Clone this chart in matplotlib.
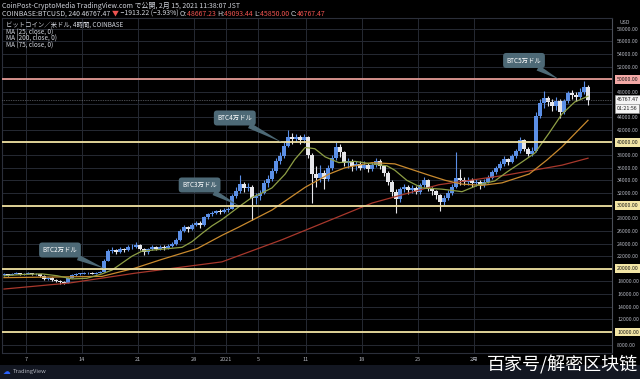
import numpy as np
import matplotlib
matplotlib.use('Agg')
import matplotlib.pyplot as plt
import matplotlib.transforms as mtransforms
from matplotlib.patches import Rectangle

plt.rcParams['font.family'] = ['Noto Sans CJK JP', 'DejaVu Sans']

# ---------------- data ----------------
# x unit: day number counted from 1 Dec 2020 (Jan 1 = 32, Feb 1 = 63)
first_day = 4.25      # first candle: Dec 4, 06:00
bar_step = 0.5        # 12-hour candles
first_open = 19000

closes = [
    19100, 19000, 19200, 19300, 19150, 19250, 19350, 19100, 19200, 18900,
    18400, 18500, 18300, 18100, 17900, 17800, 18600, 19000, 19200, 19250,
    19300, 19350, 19250, 19400, 19500, 21300, 22800, 23000, 22700, 23100,
    22900, 23400, 23500, 23800, 23200, 22600, 23100, 23400, 23200, 23500,
    23300, 23600, 23900, 24500, 26000, 26600, 26300, 26900, 27300, 27000,
    28200, 28700, 28900, 29100, 29000, 29300, 29500, 31500, 32300, 33400,
    32800, 33000, 31200, 31500, 32000, 33500, 34200, 35500, 37000, 37800,
    39500, 40800, 40500, 40900, 40300, 40800, 38000, 35000, 34300, 35200,
    34200, 36000, 37500, 39300, 38500, 36800, 37000, 36200, 36600, 36000,
    36500, 35800, 36400, 37000, 36200, 35200, 33800, 32200, 31000, 32600,
    33000, 32400, 32800, 32200, 33300, 34000, 32700, 32300, 31600, 30500,
    31200, 32000, 33000, 34300, 34000, 33800, 34000, 33600, 33800, 33200,
    33800, 34400, 35300, 35900, 36600, 37400, 36900, 37800, 38600, 40300,
    39000, 38200, 38600, 44200, 46300, 47000, 46400, 45800, 46600, 44800,
    46500, 47800, 47500, 47200, 48000, 48700, 46767.47]

highs = [
    19300, 19250, 19350, 19450, 19400, 19400, 19500, 19400, 19350, 19250,
    18950, 18700, 18650, 18400, 18200, 18000, 18700, 19150, 19350, 19400,
    19450, 19500, 19450, 19550, 19700, 21500, 23100, 23400, 23200, 23400,
    23300, 23700, 23900, 24200, 23900, 23300, 23300, 23700, 23600, 23800,
    23700, 23900, 24200, 24800, 26300, 26900, 26800, 27200, 27600, 27500,
    28400, 28900, 29200, 29300, 29400, 29600, 29800, 31800, 33000, 34800,
    33800, 33600, 33200, 32000, 32500, 34000, 34800, 36000, 37500, 38500,
    40000, 41950, 41500, 41300, 41200, 41300, 41000, 38300, 36200, 36500,
    35600, 36400, 38000, 40100, 39700, 38700, 37600, 37300, 37000, 37000,
    37000, 36700, 36900, 37500, 37300, 36500, 35400, 34100, 32600, 33000,
    33400, 33300, 33200, 33100, 33600, 34600, 34200, 33000, 32500, 31800,
    31600, 32400, 33400, 38500, 35800, 34600, 34500, 34300, 34200, 34000,
    34200, 34800, 35700, 36300, 37000, 37800, 37600, 38200, 39000, 40900,
    40500, 39300, 39200, 44800, 46800, 48100, 47400, 46800, 47200, 46800,
    46900, 48200, 48300, 48000, 48600, 49700, 49093.44]

lows = [
    18900, 18850, 18950, 19100, 19000, 19050, 19150, 19000, 18950, 18700,
    18200, 18250, 18100, 17900, 17650, 17550, 17700, 18500, 18900, 19050,
    19100, 19150, 19100, 19150, 19300, 19450, 21200, 22500, 22300, 22500,
    22600, 22800, 23200, 23300, 22900, 22200, 22400, 22900, 22900, 23000,
    23000, 23200, 23400, 23800, 24400, 25800, 25900, 26100, 26700, 26400,
    26800, 27900, 28400, 28600, 28700, 28800, 29000, 29400, 31200, 32000,
    32100, 32300, 27700, 30200, 30900, 31800, 33000, 33900, 35200, 36600,
    37500, 39200, 39800, 40000, 39700, 39900, 37600, 30400, 33000, 33800,
    32600, 33900, 35700, 37200, 37700, 36300, 35900, 35400, 35700, 35600,
    35800, 35300, 35500, 36100, 35800, 34700, 33300, 31500, 28800, 30600,
    32200, 31800, 32000, 31800, 31900, 33000, 32300, 31700, 31000, 29200,
    30100, 30900, 31700, 32800, 33200, 33200, 33300, 33000, 33100, 32700,
    32900, 33500, 34200, 35000, 35600, 36300, 36400, 36700, 37500, 38400,
    38600, 37800, 37900, 38500, 43800, 45500, 45800, 44900, 45200, 43800,
    44500, 46200, 46900, 46600, 46900, 47600, 45850]

ma25_days = [4.25, 6.5, 9, 10.9, 12.75, 14.6, 16.5, 17.75, 19, 20.25, 21.5, 24,
             26.5, 27.75, 29, 30.25, 31.5, 33.6, 35.25, 36.5, 37.75, 39.4, 40.6,
             41.9, 43.1, 44.4, 46.1, 48.1, 50.25, 52.1, 53.1, 54.6, 56.5, 59,
             61.5, 63.6, 65.6, 67.1, 69, 70.6, 72.4, 74, 75.6, 77.25]
ma25_vals = [18900, 19100, 19200, 18900, 18400, 18500, 19200, 19800, 20900, 22000,
             22800, 23100, 23400, 24300, 25600, 26800, 27800, 29800, 31300, 32000,
             32800, 35000, 37300, 39200, 39000, 37700, 36800, 37000, 36600, 36300,
             35600, 34000, 32800, 32600, 32200, 33300, 33900, 35300, 36900, 38300,
             41500, 44500, 46400, 47300]

ma75_days = [4.25, 10.25, 16.5, 20.6, 24, 28.4, 31.5, 33.6, 37.75, 41.9, 44.9, 46.9,
             50.25, 53.1, 55.25, 57.4, 59.4, 61.5, 64, 66.5, 69.9, 72.1, 74, 77.25]
ma75_vals = [18600, 18700, 18800, 20100, 21500, 23200, 25300, 26600, 29300, 32900,
             35000, 36000, 36800, 36600, 35700, 34800, 34000, 33400, 33200, 33600,
             35000, 37200, 39300, 43500]

ma200_days = [4.25, 12.4, 20.6, 31.5, 39, 50.25, 58.6, 66.9, 74, 77.25]
ma200_vals = [16800, 17750, 19300, 21100, 24600, 30400, 33300, 34800, 36400, 37500]

level_prices = [10000, 20000, 30000, 40000]
target_price = 50000
last_price = 46767.47
countdown = '01:21:56'

tick_days = [7, 14, 21, 28, 32, 36, 42, 49, 56, 63]
tick_labels = ['7', '14', '21', '28', '2021', '5', '11', '18', '25', '2月']
price_ticks = list(range(8000, 60000, 2000))

callout_texts = ['BTC2万ドル', 'BTC3万ドル', 'BTC4万ドル', 'BTC5万ドル']

# ---------------- figure ----------------
W, H = 640, 379
fig = plt.figure(figsize=(6.4, 3.79), dpi=100, facecolor='#000000')

def fx(px):
    return px / W

def fy(py):
    return 1 - py / H

ax = fig.add_axes([fx(2), 26 / H, 610 / W, 335 / H])
ax.set_facecolor('#000000')
ax.set_xlim(4.0, 80.25)
ax.set_ylim(6680, 59680)

# grid
for p in price_ticks:
    ax.axhline(p, color='#262a33', lw=0.7, zorder=0)
for d in tick_days:
    ax.axvline(d, color='#262a33', lw=0.7, zorder=0)

# candles
n = len(closes)
days = first_day + bar_step * np.arange(n)
opens = np.array([first_open] + closes[:-1], dtype=float)
closes_a = np.array(closes, dtype=float)
up = closes_a >= opens
up_col, dn_col = '#5b8fe6', '#e6e6ea'
cols = [up_col if u else dn_col for u in up]
ax.vlines(days, lows, highs, colors=cols, lw=0.8, zorder=2)
body_bot = np.minimum(opens, closes_a)
body_h = np.maximum(np.abs(closes_a - opens), 80)
ax.bar(days, body_h, bottom=body_bot, width=0.4, color=cols, linewidth=0, zorder=2)

# moving averages
ax.plot(ma200_days, ma200_vals, color='#a8382c', lw=0.9, zorder=3)
ax.plot(ma75_days, ma75_vals, color='#c98a2e', lw=0.9, zorder=3)
ax.plot(ma25_days, ma25_vals, color='#8e9f45', lw=0.9, zorder=3)

# horizontal levels
for p in level_prices:
    ax.axhline(p, color='#efe0a0', lw=1.3, zorder=4)
ax.axhline(target_price, color='#e39a94', lw=1.3, zorder=4)
ax.axhline(last_price, color='#8d929c', lw=0.5, ls=(0, (1, 1.5)), zorder=4)

# price axis
ax.yaxis.tick_right()
ax.set_yticks(price_ticks)
special = set(level_prices + [target_price])
ax.set_yticklabels(['' if p in special else f'{p:.2f}' for p in price_ticks])
ax.tick_params(axis='y', length=0, pad=3.6, labelsize=3.8, labelcolor='#b2b5be')
ax.set_xticks(tick_days)
ax.set_xticklabels(tick_labels)
ax.tick_params(axis='x', length=0, pad=3.0, labelsize=4.0, labelcolor='#b2b5be')
for s in ['left', 'top', 'bottom']:
    ax.spines[s].set_color('#2b2f3a')
    ax.spines[s].set_linewidth(0.8)
ax.spines['right'].set_color('#4a4e58')
ax.spines['right'].set_linewidth(0.8)

tr = mtransforms.blended_transform_factory(fig.transFigure, ax.transData)
for p in level_prices:
    ax.text(fx(617), p, f'{p:.2f}', transform=tr, fontsize=3.8, color='#1a1a1a',
            va='center', ha='left', clip_on=False, zorder=6,
            bbox=dict(boxstyle='square,pad=0.35', fc='#f3e6a6', ec='none'))
ax.text(fx(617), target_price, f'{target_price:.2f}', transform=tr, fontsize=3.8,
        color='#1a1a1a', va='center', ha='left', clip_on=False, zorder=6,
        bbox=dict(boxstyle='square,pad=0.35', fc='#f3a9a6', ec='none'))
ax.text(fx(617), last_price, f'{last_price:.2f}', transform=tr, fontsize=3.8,
        color='#1a1a1a', va='center', ha='left', clip_on=False, zorder=6,
        bbox=dict(boxstyle='square,pad=0.35', fc='#f4f4f4', ec='#9a9a9a', lw=0.4))
ax.text(fx(617), last_price - 1450, countdown, transform=tr, fontsize=3.8,
        color='#1a1a1a', va='center', ha='left', clip_on=False, zorder=6,
        bbox=dict(boxstyle='square,pad=0.35', fc='#f4f4f4', ec='#9a9a9a', lw=0.4))
fig.text(fx(625), fy(22.5), 'USD', fontsize=3.8, color='#b2b5be', ha='center', va='center')

# callouts
callout_pos = [((11.25, 22975), (16.9, 20000)),
               ((28.7, 33260), (33.6, 30000)),
               ((33.1, 43860), (39.0, 40000)),
               ((69.25, 52960), (73.6, 50000))]
for txt, (tpos, tip) in zip(callout_texts, callout_pos):
    ax.annotate(txt, xy=tip, xytext=tpos, fontsize=4.6, color='white',
                ha='center', va='center', zorder=7,
                bbox=dict(boxstyle='round,pad=0.55,rounding_size=0.5', fc='#4d6976', ec='none'),
                arrowprops=dict(arrowstyle='wedge,tail_width=0.9,shrink_factor=0.5',
                                fc='#4d6976', ec='none', shrinkA=0, shrinkB=0))

# legend inside plot
leg_lines = ['ビットコイン／米ドル, 4時間, COINBASE', 'MA (25, close, 0)',
             'MA (200, close, 0)', 'MA (75, close, 0)']
for k, s in enumerate(leg_lines):
    fig.text(fx(6), fy(25 + 6.5 * k), s, fontsize=4.6, color='#d1d4dc', va='center', ha='left')

# header
fig.text(fx(2), fy(5.5), 'CoinPost-CryptoMedia TradingView.com で公開, 2月 15, 2021 11:38:07 JST',
         fontsize=5.0, color='#d1d4dc', va='center', ha='left')
parts = [('COINBASE:BTCUSD, 240 46767.47 ', '#d1d4dc'), ('▼', '#ef5350'),
         (' −1913.22 (−3.93%) ', '#d1d4dc'), ('O:', '#d1d4dc'), ('48667.23 ', '#ef5350'),
         ('H:', '#d1d4dc'), ('49093.44 ', '#ef5350'), ('L:', '#d1d4dc'),
         ('45850.00 ', '#ef5350'), ('C:', '#d1d4dc'), ('46767.47', '#ef5350')]
prev = fig.text(fx(2), fy(15.5), parts[0][0], fontsize=5.0, color=parts[0][1],
                va='baseline', ha='left')
for s, c in parts[1:]:
    prev = ax.annotate(s, xy=(1, 0), xycoords=prev, fontsize=5.0, color=c,
                       va='bottom', ha='left', annotation_clip=False)

# footer
fig.add_artist(Rectangle((0, 0), 1, 14 / H, transform=fig.transFigure,
                         fc='#131722', ec='none', zorder=0))
fig.text(fx(3), fy(372), '☁', fontsize=5.5, color='#2962ff', va='center', ha='left',
         family=['DejaVu Sans'])
fig.text(fx(13), fy(372), 'TradingView', fontsize=4.2, color='#b2b5be', va='center', ha='left')

# watermark
fig.text(fx(562.5), fy(365), '百家号/解密区块链', fontsize=13, color='white',
         ha='center', va='center', family=['Noto Sans CJK SC', 'DejaVu Sans'], zorder=10)

fig.savefig('out.png', dpi=100, facecolor=fig.get_facecolor())
